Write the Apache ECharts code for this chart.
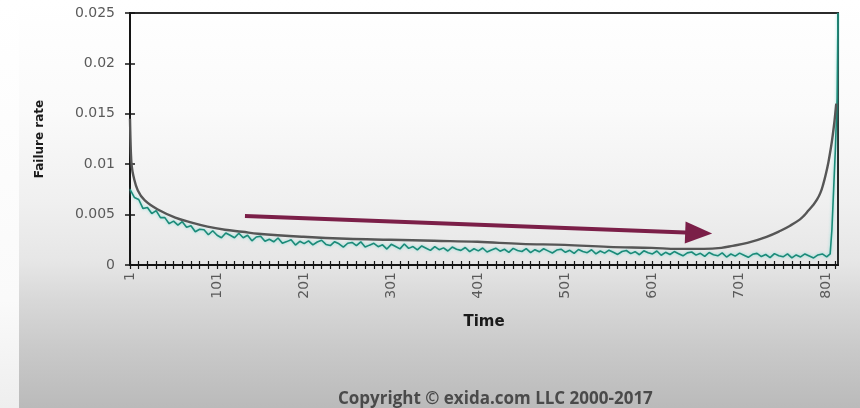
<!DOCTYPE html>
<html><head><meta charset="utf-8">
<script src="https://cdn.jsdelivr.net/npm/echarts/dist/echarts.min.js"></script>
<style>
html,body{margin:0;padding:0;width:860px;height:408px;overflow:hidden;}
body{position:relative;background:linear-gradient(to bottom,#ffffff 0px,#fafafa 110px,#f0f0f0 200px,#e6e6e6 262px,#d8d8d8 300px,#c9c9c9 350px,#bababa 408px);}
#strip{position:absolute;left:0;top:0;width:19px;height:408px;background:linear-gradient(to bottom,#ffffff 0px,#fafafa 300px,#eeeeee 408px);}
#chart{position:absolute;left:0;top:0;width:860px;height:408px;}
</style></head>
<body><div id="strip"></div><div id="chart"></div>
<script>
// ---- data ----
const xTickLabels = [1, 101, 201, 301, 401, 501, 601, 701, 801];
const yTicks = [0, 0.005, 0.01, 0.015, 0.02, 0.025];

// smooth "bathtub" curve (grey)
const grayTimes  = [1, 2, 3, 5, 10, 18, 33, 53, 72, 90, 110, 130, 148, 200, 250, 300, 350, 400, 450, 500, 550, 600, 630, 660, 680, 693, 710, 732, 748, 759, 770, 775, 780, 785, 790, 794, 797, 800, 803, 806, 808, 810, 812];
const grayValues = [0.0145, 0.0112, 0.0098, 0.0088, 0.0074, 0.0064, 0.0055, 0.0047, 0.0042, 0.0038, 0.0035, 0.0033, 0.0031, 0.0028, 0.0026, 0.0025, 0.0024, 0.0023, 0.0021, 0.0020, 0.0018, 0.0017, 0.0016, 0.0016, 0.0017, 0.0019, 0.0022, 0.0028, 0.0034, 0.0039, 0.0045, 0.0049, 0.0054, 0.0059, 0.0065, 0.0072, 0.0080, 0.0090, 0.0102, 0.0117, 0.0129, 0.0143, 0.0160];

// noisy simulated failure rate (teal), sampled every 5 time units from t=1
const tealStart = 1, tealStep = 5;
const tealValues = [
0.0075,0.0067,0.0065,0.0056,0.0057,0.0051,0.0054,0.0047,0.0047,0.0041,
0.00435,0.00395,0.0043,0.00375,0.0039,0.0033,0.00355,0.0035,0.0030,0.0034,
0.00295,0.0027,0.00318,0.00295,0.0027,0.00315,0.0027,0.00295,0.0024,0.00278,
0.00285,0.00235,0.00255,0.0023,0.00268,0.00215,0.00232,0.0025,0.00198,0.00235,
0.00212,0.0024,0.00199,0.00228,0.00246,0.00204,0.00193,0.00231,0.0021,0.00178,
0.00216,0.00224,0.00192,0.0023,0.00178,0.00197,0.00215,0.00182,0.0020,0.00158,
0.00205,0.00183,0.0016,0.00208,0.00165,0.00183,0.00151,0.00189,0.00167,0.00145,
0.00183,0.00152,0.0017,0.00139,0.00178,0.00156,0.00145,0.00174,0.00133,0.00161,
0.0014,0.00169,0.00129,0.00148,0.00167,0.00137,0.00156,0.00126,0.00165,0.00144,
0.00134,0.00163,0.00123,0.00152,0.00131,0.00161,0.0014,0.00119,0.00148,0.00157,
0.00126,0.00146,0.00115,0.00154,0.00133,0.00122,0.00151,0.0011,0.00139,0.00118,
0.00147,0.00126,0.00105,0.00134,0.00144,0.00113,0.00132,0.00102,0.00141,0.00121,
0.0011,0.00139,0.00097,0.00126,0.00104,0.00133,0.00112,0.00091,0.0012,0.00129,
0.00098,0.00116,0.00085,0.00124,0.00102,0.00091,0.0012,0.00079,0.00109,0.00088,
0.00118,0.00097,0.00076,0.00106,0.00115,0.00084,0.00104,0.00073,0.00113,0.00092,
0.00081,0.00111,0.0007,0.0010,0.0008,0.0011,0.0009,0.0007,0.0010,0.0011,
0.0008];
const tealTailTimes  = [803, 805, 807, 809, 811, 813, 814];
const tealTailValues = [0.0009, 0.0011, 0.0035, 0.0075, 0.0115, 0.0165, 0.0250];

// annotation arrow (in data coordinates)
const arrowFrom = [133, 0.00486];
const arrowTo   = [654, 0.00317];

// ---- build ----
const grayData = grayTimes.map((t, i) => [t, grayValues[i]]);
const tealData = tealValues.map((v, i) => [tealStart + i * tealStep, v])
  .concat(tealTailTimes.map((t, i) => [t, tealTailValues[i]]));

const xMinorTicks = [];
for (let t = 1; t <= 811; t += 10) xMinorTicks.push(t);

const axisColor = '#151515';
const labelFont = 'DejaVu Sans, Liberation Sans, Arial';
const xBase = {
  type: 'value', min: 1, max: 814, position: 'bottom',
  splitLine: { show: false },
  axisLine: { show: true, onZero: false, lineStyle: { color: axisColor, width: 2 } }
};
const yBase = {
  type: 'value', min: 0, max: 0.025, interval: 0.005, position: 'left',
  splitLine: { show: false },
  axisLine: { show: true, onZero: false, lineStyle: { color: axisColor, width: 2 } }
};

const chart = echarts.init(document.getElementById('chart'), null, { renderer: 'canvas' });
chart.setOption({
  backgroundColor: 'transparent',
  animation: false,
  grid: { left: 130, right: 22, top: 13, bottom: 143, show: true, borderColor: '#2a2a2a', borderWidth: 2, backgroundColor: 'transparent', containLabel: false },
  xAxis: [
    Object.assign({}, xBase, {
      axisTick: { show: true, customValues: xMinorTicks, length: 4, inside: false, lineStyle: { color: axisColor, width: 1.2 } },
      axisLabel: { show: true, customValues: xTickLabels, rotate: 90, margin: 7, color: '#5a5a5a', fontSize: 14, fontFamily: labelFont },
      name: 'Time', nameLocation: 'middle', nameGap: 50,
      nameTextStyle: { fontWeight: 'bold', fontSize: 15, color: '#1a1a1a', fontFamily: labelFont }
    }),
    Object.assign({}, xBase, {
      axisTick: { show: true, customValues: xMinorTicks, length: 4, inside: true, lineStyle: { color: axisColor, width: 1.2 } },
      axisLabel: { show: false }
    })
  ],
  yAxis: [
    Object.assign({}, yBase, {
      axisTick: { show: true, length: 5, inside: false, lineStyle: { color: axisColor, width: 1.5 } },
      axisLabel: { show: true, customValues: yTicks, margin: 15, color: '#5a5a5a', fontSize: 14, fontFamily: labelFont,
        formatter: v => String(+v.toFixed(3)) },
      name: 'Failure rate', nameLocation: 'middle', nameGap: 84, nameRotate: 90,
      nameTextStyle: { fontWeight: 'bold', fontSize: 12, color: '#1a1a1a', fontFamily: labelFont }
    }),
    Object.assign({}, yBase, {
      axisTick: { show: true, length: 5, inside: true, lineStyle: { color: axisColor, width: 1.5 } },
      axisLabel: { show: false }
    })
  ],
  series: [
    {
      name: 'simulated', type: 'line', xAxisIndex: 0, yAxisIndex: 0,
      data: tealData, showSymbol: false, symbol: 'none', z: 2,
      lineStyle: { color: '#1b8a78', width: 1.6, shadowColor: 'rgba(90,215,205,0.7)', shadowBlur: 3 }
    },
    {
      name: 'model', type: 'line', xAxisIndex: 0, yAxisIndex: 0,
      data: grayData, showSymbol: false, symbol: 'none', smooth: 0.4, z: 3,
      lineStyle: { color: '#565656', width: 2.4 },
      markLine: {
        silent: true, symbol: ['none', 'triangle'], symbolSize: [22, 27], animation: false,
        label: { show: false },
        lineStyle: { color: '#7b1f48', width: 4, type: 'solid' },
        emphasis: { disabled: true },
        data: [[{ coord: arrowFrom }, { coord: arrowTo }]]
      }
    }
  ],
  graphic: [
    { type: 'text', left: 338, top: 391, style: { text: 'Copyright © exida.com LLC 2000-2017', fill: '#4a4a4a', font: 'bold 17px "Open Sans", sans-serif' } }
  ]
});
</script>
</body></html>
